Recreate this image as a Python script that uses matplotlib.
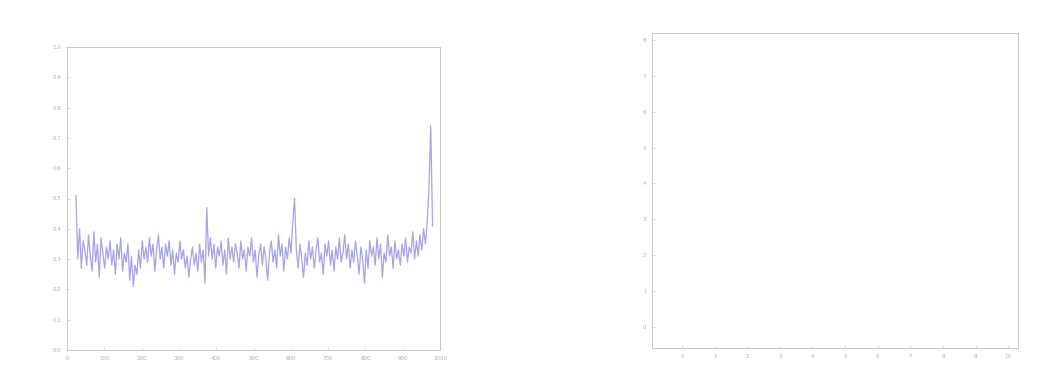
import numpy as np
import matplotlib
matplotlib.use("Agg")
import matplotlib.pyplot as plt

# signal (approximate, one value every ~4.8 samples)
signal = [
    0.51, 0.30, 0.40, 0.27, 0.36, 0.33, 0.28, 0.38, 0.31, 0.26,
    0.39, 0.29, 0.35, 0.24, 0.37, 0.32, 0.27, 0.34, 0.30, 0.36,
    0.28, 0.33, 0.25, 0.35, 0.30, 0.37, 0.26, 0.32, 0.29, 0.35,
    0.23, 0.31, 0.21, 0.28, 0.25, 0.33, 0.27, 0.36, 0.30, 0.34,
    0.29, 0.37, 0.31, 0.35, 0.26, 0.33, 0.38, 0.30, 0.34, 0.27,
    0.35, 0.31, 0.36, 0.28, 0.33, 0.25, 0.32, 0.29, 0.36, 0.30,
    0.33, 0.27, 0.31, 0.24, 0.30, 0.34, 0.28, 0.32, 0.26, 0.35,
    0.29, 0.33, 0.22, 0.47, 0.31, 0.37, 0.30, 0.35, 0.27, 0.34,
    0.31, 0.36, 0.28, 0.33, 0.25, 0.37, 0.30, 0.34, 0.29, 0.35,
    0.32, 0.27, 0.36, 0.30, 0.33, 0.26, 0.34, 0.31, 0.37, 0.29,
    0.33, 0.24, 0.31, 0.35, 0.28, 0.34, 0.30, 0.23, 0.32, 0.36,
    0.29, 0.33, 0.27, 0.38, 0.31, 0.35, 0.26, 0.34, 0.30, 0.37,
    0.32, 0.42, 0.50, 0.33, 0.27, 0.35, 0.30, 0.24, 0.32, 0.28,
    0.36, 0.30, 0.34, 0.27, 0.33, 0.37, 0.29, 0.32, 0.25, 0.35,
    0.31, 0.36, 0.28, 0.33, 0.26, 0.34, 0.30, 0.37, 0.29, 0.32,
    0.38, 0.30, 0.35, 0.27, 0.33, 0.29, 0.36, 0.31, 0.25, 0.34,
    0.30, 0.22, 0.33, 0.27, 0.36, 0.31, 0.34, 0.28, 0.37, 0.30,
    0.35, 0.24, 0.32, 0.29, 0.38, 0.31, 0.34, 0.27, 0.36, 0.30,
    0.33, 0.28, 0.35, 0.31, 0.37, 0.29, 0.34, 0.32, 0.39, 0.30,
    0.36, 0.31, 0.38, 0.33, 0.40, 0.35, 0.42, 0.53, 0.74, 0.41,
]
samples = np.linspace(24, 980, len(signal))

left_xticks = [0, 100, 200, 300, 400, 500, 600, 700, 800, 900, 1000]
left_yticks = [0, 0.1, 0.2, 0.3, 0.4, 0.5, 0.6, 0.7, 0.8, 0.9, 1]
right_xticks = [0, 1, 2, 3, 4, 5, 6, 7, 8, 9, 10]
right_yticks = [0, 1, 2, 3, 4, 5, 6, 7, 8]

W, H = 1055, 389
fig = plt.figure(figsize=(W / 100, H / 100), dpi=100)
fig.patch.set_facecolor("white")

ax1 = fig.add_axes([67 / W, 1 - 350 / H, (440 - 67) / W, (350 - 47) / H])
ax2 = fig.add_axes([652 / W, 1 - 348 / H, (1018 - 652) / W, (348 - 33) / H])

ax1.plot(samples, signal, color="#4a4ad0", lw=0.9, alpha=0.5)
ax1.set_xlim(0, 1000)
ax1.set_ylim(0, 1)
ax1.set_xticks(left_xticks)
ax1.set_yticks(left_yticks)

ax2.set_xlim(-0.92, 10.3)
ax2.set_ylim(-0.6, 8.2)
ax2.set_xticks(right_xticks)
ax2.set_yticks(right_yticks)

for ax in (ax1, ax2):
    ax.set_facecolor("white")
    for s in ax.spines.values():
        s.set_color("#c8c8c8")
        s.set_linewidth(0.7)
    ax.tick_params(direction="in", length=2, width=0.5, colors="#c8c8c8",
                   labelsize=4, labelcolor="#b0b0b0", pad=4)

fig.savefig("out.png", dpi=100)
